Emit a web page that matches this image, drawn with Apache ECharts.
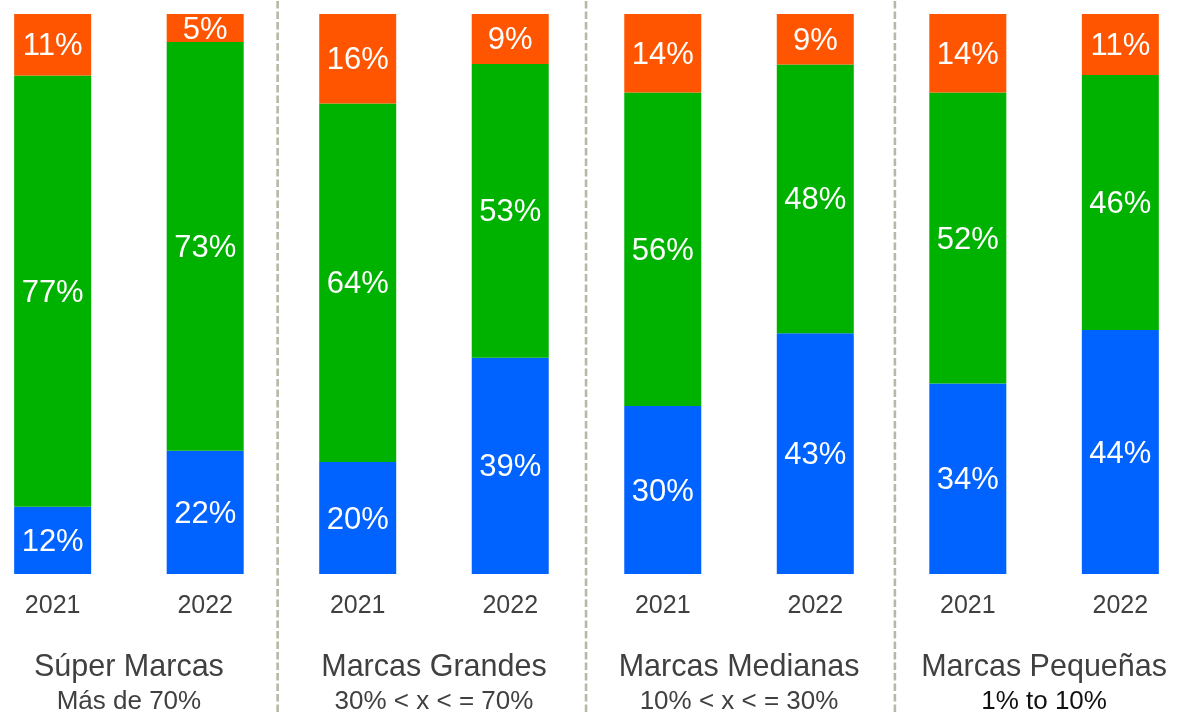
<!DOCTYPE html>
<html>
<head>
<meta charset="utf-8">
<script src="https://cdn.jsdelivr.net/npm/echarts@6/dist/echarts.min.js"></script>
<style>
html,body{margin:0;padding:0;background:#fff;}
#chart{width:1183px;height:712px;}
</style>
</head>
<body>
<div id="chart"></div>
<script>
// ---- data ----
var years = ['2021', '2022', '2021', '2022', '2021', '2022', '2021', '2022'];
var groups = ['Súper Marcas', 'Marcas Grandes', 'Marcas Medianas', 'Marcas Pequeñas'];
var subtitles = ['Más de 70%', '30% < x < = 70%', '10% < x < = 30%', '1% to 10%'];
var blueVals = [12, 22, 20, 39, 30, 43, 34, 44];
var greenVals = [77, 73, 64, 53, 56, 48, 52, 46];
var orangeVals = [11, 5, 16, 9, 14, 9, 14, 11];
var separatorPos = [1.475, 3.497, 5.522];

// ---- build ----
var totals = years.map(function (_, i) { return blueVals[i] + greenVals[i] + orangeVals[i]; });
function norm(arr) {
  return arr.map(function (v, i) { return { value: v / totals[i] * 100, raw: v }; });
}
var FONT = '"Liberation Sans", Arial, sans-serif';
var gridLeft = -23.6, gridWidth = 1220.2;

function barSeries(name, arr, color) {
  return {
    name: name,
    type: 'bar',
    stack: 'total',
    xAxisIndex: 0,
    yAxisIndex: 0,
    barWidth: 77,
    data: norm(arr),
    itemStyle: { color: color },
    label: {
      show: true,
      position: 'inside',
      offset: [0, 2],
      color: '#ffffff',
      fontSize: 31,
      fontFamily: FONT,
      formatter: function (p) { return p.data.raw + '%'; }
    },
    silent: true
  };
}

var series = [
  barSeries('blue', blueVals, '#0062FF'),
  barSeries('green', greenVals, '#00B200'),
  barSeries('orange', orangeVals, '#FF5500')
];

separatorPos.forEach(function (x) {
  series.push({
    type: 'line',
    xAxisIndex: 2,
    yAxisIndex: 1,
    data: [[x, 0], [x, 1]],
    symbol: 'none',
    silent: true,
    lineStyle: { color: '#B8B8A8', width: 2.6, type: [7.5, 3] },
    z: 1
  });
});

var option = {
  backgroundColor: '#ffffff',
  animation: false,
  grid: [
    { left: gridLeft, width: gridWidth, top: 14, bottom: 138, containLabel: false, outerBoundsMode: 'none' },
    { left: gridLeft, width: gridWidth, top: 0, bottom: 0, containLabel: false, outerBoundsMode: 'none' }
  ],
  xAxis: [
    {
      type: 'category',
      gridIndex: 0,
      data: years,
      axisLine: { show: false },
      axisTick: { show: false },
      axisLabel: { fontSize: 25, color: '#404040', fontFamily: FONT, margin: 20 }
    },
    {
      type: 'category',
      gridIndex: 0,
      position: 'bottom',
      offset: 0,
      data: groups,
      axisLine: { show: false },
      axisTick: { show: false },
      axisLabel: {
        margin: 77,
        interval: 0,
        formatter: function (v, i) {
          return '{t|' + v + '}\n{' + (i === 3 ? 'k' : 's') + '|' + subtitles[i] + '}';
        },
        rich: {
          t: { fontSize: 30.5, lineHeight: 34, color: '#404040', fontFamily: FONT },
          s: { fontSize: 26, lineHeight: 33, color: '#404040', fontFamily: FONT },
          k: { fontSize: 26, lineHeight: 33, color: '#111111', fontFamily: FONT }
        }
      }
    },
    {
      type: 'value',
      gridIndex: 1,
      min: -0.5,
      max: 7.5,
      show: false
    }
  ],
  yAxis: [
    { type: 'value', gridIndex: 0, min: 0, max: 100, show: false },
    { type: 'value', gridIndex: 1, min: 0, max: 1, show: false }
  ],
  series: series
};

var chart = echarts.init(document.getElementById('chart'), null, { renderer: 'canvas' });
chart.setOption(option);
</script>
</body>
</html>
